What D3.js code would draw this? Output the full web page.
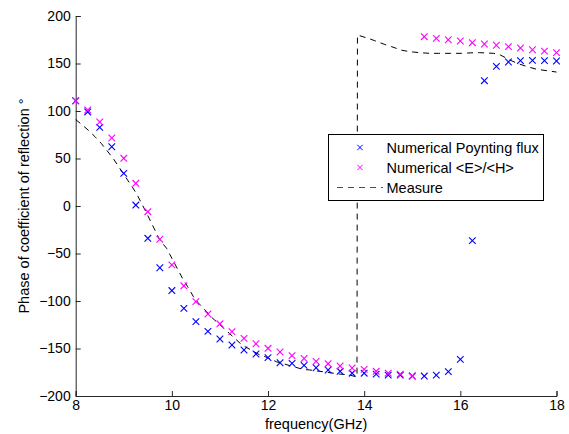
<!DOCTYPE html>
<html><head><meta charset="utf-8">
<script src="https://cdn.jsdelivr.net/npm/d3@7"></script>
<style>
html,body{margin:0;padding:0;background:#fff;}
svg{display:block;font-family:"Liberation Sans",Arial,Helvetica,sans-serif;}
</style></head>
<body>
<svg id="chart" width="569" height="434"></svg>
<script>
// ---- data ----
const freq = [8,8.25,8.5,8.75,9,9.25,9.5,9.75,10,10.25,10.5,10.75,11,11.25,11.5,11.75,12,12.25,12.5,12.75,13,13.25,13.5,13.75,14,14.25,14.5,14.75,15,15.25,15.5,15.75,16,16.25,16.5,16.75,17,17.25,17.5,17.75,18];
const poynting = [110.8,99,82.8,62.4,34.4,1,-34,-65,-89,-107.7,-121.7,-132,-140,-146.3,-151.6,-155.8,-159.6,-165,-165.6,-167.7,-170.3,-172.6,-174,-176,-176,-177,-178,-178,-179,-179,-178,-174.4,-161.4,-36.5,131.9,147,151.6,153,153.3,153,152.6];
const eh = [110.8,101,88.4,71.6,50.2,23.9,-6,-35,-62,-84,-100.7,-113.7,-124,-132.3,-139.3,-145,-149.8,-153.7,-157.5,-160.5,-163.5,-166,-168.4,-170.5,-172,-174,-176,-177,-179,178.2,176.5,175,173.7,171.9,170.5,169.2,167.7,166.3,164.5,163,161.4];
const measureFreq = [8,8.12,8.28,8.4,8.53,8.64,8.78,8.86,9.18,9.27,9.37,9.46,9.68,9.75,9.89,10,10.24,10.33,10.45,10.55,10.72,10.8,11,11.42,11.52,11.83,11.94,12.18,12.52,12.73,12.87,13.22,13.39,13.5,13.67,13.85,13.86,14.08,14.22,14.43,14.57,14.78,14.95,15.16,15.36,15.55,15.8,16.02,16.3,16.4,16.69,16.83,17.03,17.18,17.4,17.58,17.86,18];
const measure = [91,86,79,73,66,59,50,44,19.7,12.6,2.8,-6,-28.7,-35.8,-44.5,-55,-78,-85,-95.5,-102,-111,-116,-125,-144.5,-148,-156.8,-158.6,-164,-169,-172,-172.6,-175,-176.2,-177,-177.6,-180,180,176.5,174,170,167.7,164,162.4,161.4,160.7,160.7,160.7,160.7,161.4,161.4,160.7,159,153.7,150.2,146.6,144,142,141];
const xTicks = [8,10,12,14,16,18];
const yTicks = [-200,-150,-100,-50,0,50,100,150,200];
const seriesNames = ["Numerical Poynting flux","Numerical <E>/<H>","Measure"];
const xLabel = "frequency(GHz)";
const yLabel = "Phase of coefficient of reflection °";

// ---- layout ----
const svg = d3.select("#chart");
const L = 75.7, R = 556.5, T = 16, B = 396;
const x = d3.scaleLinear().domain([8,18]).range([L,R]);
const y = d3.scaleLinear().domain([-200,200]).range([B,T]);

const axisColor = "#262626";
const fs = 14;

// axes (ticks inward)
const xAxis = svg.append("g").attr("transform",`translate(0,${B})`)
  .call(d3.axisBottom(x).tickValues(xTicks).tickSize(-5).tickPadding(4).tickFormat(d3.format("d")));
const yAxis = svg.append("g").attr("transform",`translate(${L},0)`)
  .call(d3.axisLeft(y).tickValues(yTicks).tickSize(-5).tickPadding(5).tickFormat(d => d < 0 ? "\u2212" + Math.abs(d) : String(d)));
[xAxis,yAxis].forEach(g => {
  g.select(".domain").attr("stroke",axisColor).attr("stroke-width",1);
  g.selectAll(".tick line").attr("stroke",axisColor);
  g.selectAll(".tick text").attr("fill","#000").style("font-size",fs+"px").style("font-family","'Liberation Sans',Arial,sans-serif");
});

// labels
svg.append("text").attr("x",(L+R)/2).attr("y",429).attr("text-anchor","middle")
  .style("font-size","14.5px").text(xLabel);
svg.append("text").attr("transform",`translate(29,${(T+B)/2}) rotate(-90)`).attr("text-anchor","middle")
  .style("font-size","14.5px").text(yLabel);

// measure dashed line
const line = d3.line().x(d => x(d[0])).y(d => y(d[1]));
svg.append("path").datum(measureFreq.map((f,i)=>[f,measure[i]]))
  .attr("d",line).attr("fill","none").attr("stroke","#000").attr("stroke-width",1)
  .attr("stroke-dasharray","6,5");

// markers
function crosses(vals, color, h){
  const g = svg.append("g").attr("stroke",color).attr("stroke-width",1.1);
  freq.forEach((f,i)=>{
    const cx = x(f), cy = y(vals[i]);
    g.append("line").attr("x1",cx-h).attr("y1",cy-h).attr("x2",cx+h).attr("y2",cy+h);
    g.append("line").attr("x1",cx-h).attr("y1",cy+h).attr("x2",cx+h).attr("y2",cy-h);
  });
}
crosses(poynting,"#0000ff",3.3);
crosses(eh,"#ff00ff",3.3);

// legend
const lg = svg.append("g");
lg.append("rect").attr("x",328.5).attr("y",134.5).attr("width",215).attr("height",66)
  .attr("fill","#fff").attr("stroke","#000").attr("stroke-width",1);
const rows = [147.5,167.5,187.5];
const legColors = ["#0000ff","#ff00ff"];
rows.forEach((ry,i)=>{
  if(i<2){
    const h=2.7, cx=360;
    lg.append("line").attr("x1",cx-h).attr("y1",ry-h).attr("x2",cx+h).attr("y2",ry+h).attr("stroke",legColors[i]);
    lg.append("line").attr("x1",cx-h).attr("y1",ry+h).attr("x2",cx+h).attr("y2",ry-h).attr("stroke",legColors[i]);
  } else {
    lg.append("line").attr("x1",337).attr("x2",383).attr("y1",ry).attr("y2",ry)
      .attr("stroke","#000").attr("stroke-dasharray","6,5").attr("stroke-opacity",0.7);
  }
  lg.append("text").attr("x",386.5).attr("y",ry).attr("dy","0.35em")
    .style("font-size","14.5px").text(seriesNames[i]);
});
</script>
</body></html>
